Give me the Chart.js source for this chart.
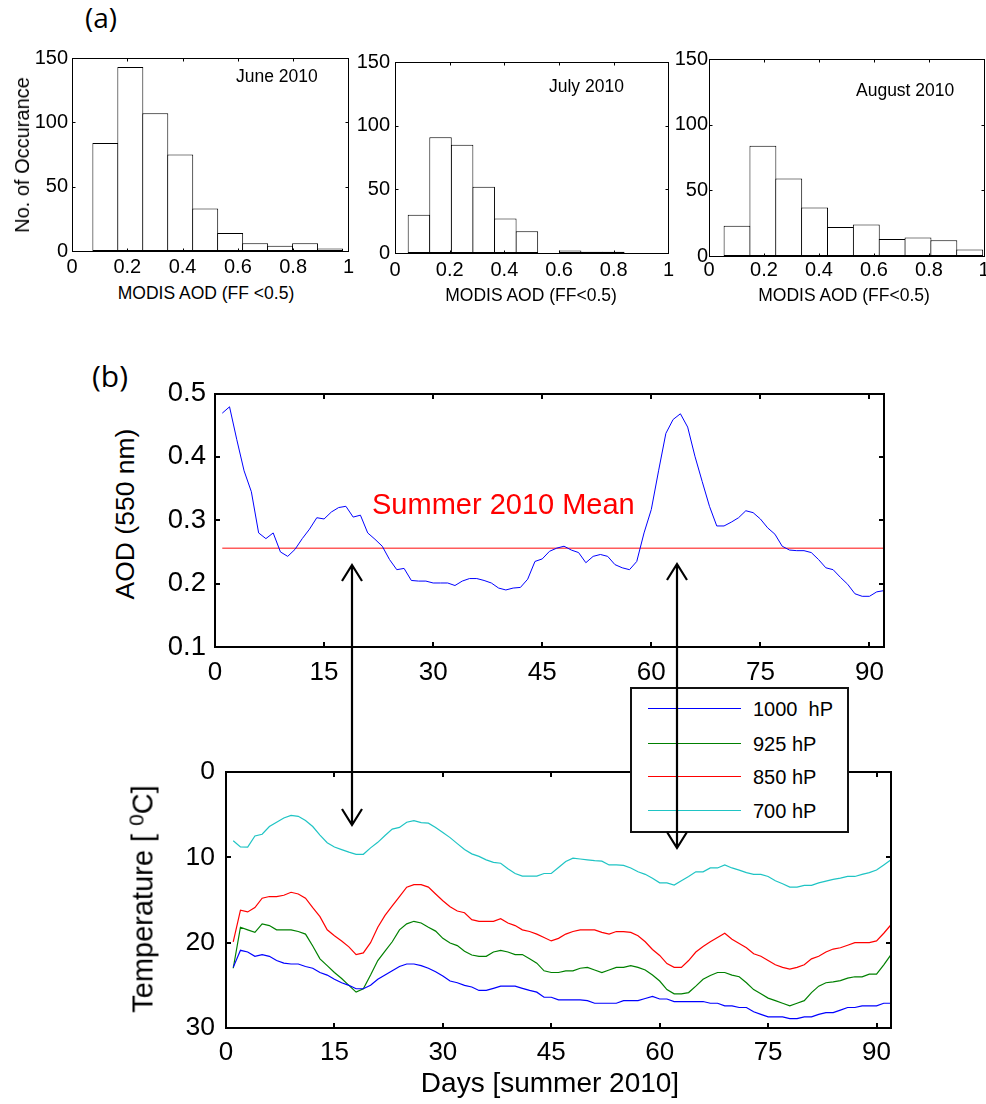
<!DOCTYPE html>
<html><head><meta charset="utf-8">
<script src="https://cdn.jsdelivr.net/npm/chart.js@4"></script>
<style>
html,body{margin:0;padding:0;background:#fff}
body{width:986px;height:1104px;position:relative;overflow:hidden;font-family:"Liberation Sans",Arial,sans-serif;color:#000}
.lbl{position:absolute;white-space:pre;z-index:5;line-height:1}
.rot{transform:translate(-50%,-50%) rotate(-90deg)}
#legend{position:absolute;z-index:6;background:#fff;border:2px solid #111;box-sizing:border-box}
#overlay{position:absolute;left:0;top:0;z-index:7;pointer-events:none}
</style></head>
<body>
<script>
// ---------------- data ----------------
const juneBins  = [0.1207,0.2110,0.3013,0.3916,0.4819,0.5722,0.6625,0.7528,0.8431,0.9334];
const juneCounts= [84,143,107,75,33,14,6,4,6,2];
const julyBins  = [0.0875,0.1665,0.2455,0.3245,0.4035,0.4825,0.5615,0.6405,0.7195,0.7985];
const julyCounts= [30,91,85,52,27,17,0,2,1,1];
const augBins   = [0.102,0.196,0.290,0.384,0.478,0.572,0.666,0.760,0.854,0.948];
const augCounts = [23,84,59,37,22,24,13,14,12,5];
const histXTicks = [0,0.2,0.4,0.6,0.8,1];
const histYTicks = [0,50,100,150];
const monthLabels = ['June 2010','July 2010','August 2010'];

const days = [1,2,3,4,5,6,7,8,9,10,11,12,13,14,15,16,17,18,19,20,21,22,23,24,25,26,27,28,29,30,
 31,32,33,34,35,36,37,38,39,40,41,42,43,44,45,46,47,48,49,50,51,52,53,54,55,56,57,58,59,60,
 61,62,63,64,65,66,67,68,69,70,71,72,73,74,75,76,77,78,79,80,81,82,83,84,85,86,87,88,89,90,91,92];
const aod = [0.469,0.479,0.427,0.378,0.345,0.280,0.271,0.280,0.250,0.243,
 0.254,0.271,0.286,0.304,0.302,0.313,0.320,0.322,0.305,0.308,
 0.280,0.270,0.259,0.238,0.222,0.224,0.205,0.204,0.204,0.201,
 0.201,0.201,0.197,0.204,0.208,0.208,0.205,0.201,0.193,0.190,
 0.193,0.194,0.207,0.235,0.239,0.251,0.256,0.259,0.253,0.249,
 0.233,0.243,0.246,0.243,0.230,0.225,0.222,0.235,0.280,0.317,
 0.378,0.437,0.459,0.468,0.447,0.401,0.361,0.322,0.291,0.291,
 0.297,0.304,0.315,0.312,0.302,0.288,0.278,0.259,0.253,0.252,
 0.252,0.249,0.238,0.225,0.222,0.210,0.199,0.184,0.180,0.180,
 0.187,0.189];
const aodMean = 0.256;
const meanDays = [1,92];
const aodYTicks = [0.1,0.2,0.3,0.4,0.5];
const dayTicks = [0,15,30,45,60,75,90];

const t1000 = [22.9,20.9,21.1,21.6,21.4,21.6,22.1,22.4,22.5,22.5, 22.8,23.0,23.5,23.8,24.3,24.7,25.0,25.4,25.4,25.0,
 24.3,23.8,23.3,22.8,22.5,22.5,22.7,23.0,23.4,23.9, 24.5,24.7,25.0,25.2,25.6,25.6,25.35,25.1,25.1,25.1,
 25.35,25.6,25.8,26.4,26.4,26.7,26.7,26.7,26.7,26.8, 27.1,27.1,27.1,27.1,26.8,26.8,26.8,26.55,26.3,26.6,
 26.6,26.9,26.9,26.9,26.9,26.9,27.1,27.1,27.4,27.4, 27.6,27.6,28.1,28.4,28.7,28.7,28.7,28.9,28.9,28.7,
 28.7,28.4,28.2,28.2,27.9,27.6,27.6,27.4,27.4,27.4, 27.1,27.1];
const t925 = [23.0,18.2,18.5,18.8,17.8,18.0,18.5,18.5,18.5,18.7, 19.0,20.4,21.9,22.7,23.5,24.2,25.0,25.8,25.4,23.8,
 22.1,21.0,19.9,18.5,17.8,17.5,17.7,18.2,18.65,19.5, 20.05,20.35,21.0,21.45,21.6,21.6,21.1,20.9,21.1,21.4,
 21.4,21.9,22.4,23.3,23.5,23.5,23.3,23.3,23.0,22.9, 23.2,23.5,23.2,22.9,22.9,22.7,22.9,23.2,23.8,24.5,
 25.5,26.0,26.0,25.85,25.1,24.3,23.85,23.5,23.5,23.8, 24.0,24.7,25.5,26.0,26.5,26.8,27.1,27.4,27.1,26.8,
 25.85,25.1,24.7,24.6,24.45,24.15,24.0,24.0,23.7,23.7, 22.6,21.4];
const t850 = [19.9,16.2,16.4,15.9,14.8,14.6,14.6,14.45,14.1,14.3, 14.8,15.9,16.95,18.5,19.2,19.8,20.5,21.4,21.2,20.0,
 18.2,16.8,15.7,14.6,13.5,13.2,13.2,13.5,14.3,15.1, 15.8,16.3,16.5,17.3,17.5,17.5,17.5,17.2,17.7,18.0,
 18.5,18.7,19.0,19.4,19.8,19.5,19.0,18.7,18.5,18.5, 18.5,18.8,19.0,18.7,18.7,18.8,19.2,19.9,20.8,21.5,
 22.45,22.9,22.9,22.1,21.1,20.45,19.9,19.4,18.9,19.6, 20.1,20.6,21.3,21.6,22.1,22.6,22.9,23.1,22.9,22.6,
 21.9,21.6,21.1,20.75,20.6,20.3,20.0,20.0,20.0,19.8, 18.9,17.9];
const t700 = [8.06,8.78,8.8,7.5,7.3,6.4,5.9,5.4,5.1,5.2, 5.7,6.4,7.4,8.3,8.8,9.1,9.4,9.65,9.65,8.9,
 8.25,7.45,6.7,6.5,5.9,5.7,5.95,6.0,6.5,7.1, 7.7,8.4,9.1,9.6,9.9,10.3,10.6,10.7,11.35,11.9,
 12.2,12.2,12.2,11.9,11.9,11.2,10.5,10.1,10.2,10.3, 10.4,10.45,10.9,10.9,10.95,11.25,11.7,12.0,12.45,13.0,
 13.0,13.25,12.75,12.25,11.7,11.7,11.25,11.25,10.9,11.25, 11.5,11.8,12.0,12.0,12.25,12.75,13.1,13.5,13.5,13.3,
 13.3,13.0,12.8,12.6,12.45,12.25,12.25,12.0,11.8,11.5, 10.9,10.3];
const tempTicks = [0,10,20,30];
const levelLabels = ['1000  hP','925 hP','850 hP','700 hP'];
const levelColors = ['#0000ff','#008000','#ff0000','#1fc4c4'];

// ---------------- helpers ----------------
Chart.defaults.font.family = '"Liberation Sans", Arial, sans-serif';
Chart.defaults.color = '#000';

const matlabBox = {
  id: 'matlabBox',
  afterDatasetsDraw(chart, args, o) {
    const {ctx, chartArea: a, scales} = chart;
    const lw = o.lw || 1, tl = o.tickLen || 4;
    const off = (lw % 2) ? 0.5 : 0;
    const L = Math.round(a.left) + off, R = Math.round(a.right) + off;
    const T = Math.round(a.top) + off, B = Math.round(a.bottom) + off;
    ctx.save();
    ctx.strokeStyle = '#000';
    ctx.lineWidth = lw;
    ctx.beginPath();
    scales.x.ticks.forEach(t => {
      const x = Math.round(scales.x.getPixelForValue(t.value)) + off;
      ctx.moveTo(x, B); ctx.lineTo(x, B - tl);
      ctx.moveTo(x, T); ctx.lineTo(x, T + tl);
    });
    scales.y.ticks.forEach(t => {
      const y = Math.round(scales.y.getPixelForValue(t.value)) + off;
      ctx.moveTo(L, y); ctx.lineTo(L + tl, y);
      ctx.moveTo(R, y); ctx.lineTo(R - tl, y);
    });
    ctx.stroke();
    ctx.strokeRect(L, T, R - L, B - T);
    ctx.restore();
  }
};

function place(g, cfg) {
  const c = document.createElement('canvas');
  const w = g.W + g.ml + g.mr, h = g.H + g.mt + g.mb;
  c.width = w; c.height = h;
  c.style.cssText = `position:absolute;left:${g.L - g.ml}px;top:${g.T - g.mt}px;width:${w}px;height:${h}px;z-index:2`;
  document.body.appendChild(c);
  const o = cfg.options;
  o.responsive = false; o.animation = false; o.devicePixelRatio = 1;
  o.layout = {padding: {left: 0, top: g.mt, right: g.mr, bottom: 0}};
  o.scales.x.afterFit = s => { s.height = g.mb; };
  o.scales.y.afterFit = s => { s.width = g.ml; };
  o.plugins = Object.assign({legend: {display: false}, tooltip: {enabled: false}}, o.plugins || {});
  cfg.plugins = [matlabBox];
  return new Chart(c, cfg);
}

const noGrid = {display: false, drawTicks: false, tickLength: 0};
function fixedTicks(arr) { return s => { s.ticks = arr.map(v => ({value: v})); }; }
const fmtHist = v => (v === 0 || v === 1) ? String(v) : v.toFixed(1);

function histChart(g, bins, counts, px, py) {
  return place(g, {
    type: 'bar',
    data: {datasets: [{
      data: bins.map((b, i) => ({x: b, y: counts[i]})),
      backgroundColor: '#fff', borderColor: '#000', borderWidth: 1,
      borderSkipped: false, barPercentage: 1.04, categoryPercentage: 1
    }]},
    options: {
      scales: {
        x: {type: 'linear', min: 0, max: 1, offset: false,
            grid: noGrid, border: {display: false},
            ticks: {padding: px, font: {size: 20}, autoSkip: false, maxRotation: 0, callback: fmtHist},
            afterBuildTicks: fixedTicks(histXTicks)},
        y: {type: 'linear', min: 0, max: 150,
            grid: noGrid, border: {display: false},
            ticks: {padding: py, font: {size: 20}, autoSkip: false},
            afterBuildTicks: fixedTicks(histYTicks)}
      },
      plugins: {matlabBox: {lw: 1, tickLen: 3}}
    }
  });
}

// ---------------- panel (a) ----------------
histChart({L: 72, T: 54, W: 278, H: 197, ml: 45, mt: 12, mr: 8, mb: 30}, juneBins, juneCounts, 4, 4);
histChart({L: 395, T: 57, W: 276, H: 196, ml: 45, mt: 12, mr: 8, mb: 30}, julyBins, julyCounts, 5, 5);
histChart({L: 709, T: 58, W: 275, H: 198, ml: 45, mt: 12, mr: 8, mb: 30}, augBins, augCounts, 2, 1);

// ---------------- panel (b) AOD ----------------
place({L: 215, T: 386, W: 669, H: 261, ml: 70, mt: 18, mr: 12, mb: 45}, {
  type: 'line',
  data: {datasets: [
    {data: days.map((d, i) => ({x: d, y: aod[i]})), borderColor: '#0000ff', borderWidth: 1,
     pointRadius: 0, tension: 0, fill: false},
    {data: meanDays.map(d => ({x: d, y: aodMean})), borderColor: '#ff5c5c', borderWidth: 1.5,
     pointRadius: 0, tension: 0, fill: false}
  ]},
  options: {
    scales: {
      x: {type: 'linear', min: 0, max: 92, grid: noGrid, border: {display: false},
          ticks: {padding: 10, font: {size: 26}, autoSkip: false, maxRotation: 0},
          afterBuildTicks: fixedTicks(dayTicks)},
      y: {type: 'linear', min: 0.1, max: 0.5, grid: noGrid, border: {display: false},
          ticks: {padding: 9, font: {size: 27.5}, autoSkip: false, callback: v => v.toFixed(1)},
          afterBuildTicks: fixedTicks(aodYTicks)}
    },
    plugins: {matlabBox: {lw: 2, tickLen: 5}}
  }
});

// ---------------- panel (b) temperature ----------------
const tempSeries = [t1000, t925, t850, t700];
const tempChart = place({L: 226, T: 763, W: 665, H: 265, ml: 70, mt: 18, mr: 12, mb: 45}, {
  type: 'line',
  data: {datasets: tempSeries.map((s, k) => ({
    label: levelLabels[k],
    data: days.map((d, i) => ({x: d, y: s[i]})),
    borderColor: levelColors[k], borderWidth: 1.2, pointRadius: 0, tension: 0, fill: false
  }))},
  options: {
    scales: {
      x: {type: 'linear', min: 0, max: 92, grid: noGrid, border: {display: false},
          ticks: {padding: 9, font: {size: 26}, autoSkip: false, maxRotation: 0},
          afterBuildTicks: fixedTicks(dayTicks)},
      y: {type: 'linear', min: 0, max: 30, reverse: true, grid: noGrid, border: {display: false},
          ticks: {padding: 11, font: {size: 26.5}, autoSkip: false},
          afterBuildTicks: fixedTicks(tempTicks)}
    },
    plugins: {matlabBox: {lw: 2, tickLen: 5}}
  }
});

// ---------------- text ----------------
function label(text, opt) {
  const d = document.createElement('div');
  d.className = 'lbl' + (opt.rot ? ' rot' : '');
  d.innerHTML = text;
  const fs = opt.fs;
  let css = `font-size:${fs}px;` + (opt.font ? `font-family:${opt.font};` : '') + (opt.color ? `color:${opt.color};` : '');
  if (opt.rot) {
    css += `left:${opt.cx}px;top:${opt.cy}px;`;
  } else {
    const top = opt.base - 0.8465 * fs;
    if (opt.cx !== undefined) css += `left:${opt.cx}px;top:${top}px;transform:translateX(-50%);`;
    else css += `left:${opt.x}px;top:${top}px;`;
  }
  d.style.cssText = css;
  document.body.appendChild(d);
  return d;
}
label('(a)', {x: 85, base: 27, fs: 28, font: '"Open Sans", sans-serif'});
label('(b)', {x: 92, base: 386, fs: 30, font: '"Open Sans", sans-serif'});
label(monthLabels[0], {x: 236, base: 83, fs: 17.5});
label(monthLabels[1], {x: 549, base: 93, fs: 17.5});
label(monthLabels[2], {x: 856, base: 97, fs: 17.5});
label('MODIS AOD (FF &lt;0.5)', {cx: 206, base: 300, fs: 17.5});
label('MODIS AOD (FF&lt;0.5)', {cx: 531, base: 302, fs: 17.5});
label('MODIS AOD (FF&lt;0.5)', {cx: 844, base: 302, fs: 17.5});
label('No. of Occurance', {rot: true, cx: 22, cy: 155, fs: 20});
label('Summer 2010 Mean', {x: 372, base: 515, fs: 29, color: '#ff0000'});
label('AOD (550 nm)', {rot: true, cx: 125, cy: 514, fs: 26.5});
label('Temperature [ <span style="position:relative;top:-0.45em;font-size:0.72em">0</span>C]', {rot: true, cx: 143, cy: 899, fs: 29});
label('Days [summer 2010]', {cx: 550, base: 1093, fs: 28});

// ---------------- legend (from the temperature chart's datasets) ----------------
const lg = document.createElement('div');
lg.id = 'legend';
lg.style.cssText = 'left:630px;top:687px;width:219px;height:146px;';
const rowY = [20, 55, 88, 122];
tempChart.data.datasets.forEach((ds, k) => {
  const ln = document.createElement('div');
  ln.style.cssText = `position:absolute;left:16px;top:${rowY[k] - 1}px;width:93px;height:1px;background:${ds.borderColor}`;
  lg.appendChild(ln);
  const tx = document.createElement('div');
  tx.style.cssText = `position:absolute;left:121px;top:${rowY[k] - 11}px;font-size:20px;line-height:22px;white-space:pre`;
  tx.textContent = ds.label;
  lg.appendChild(tx);
});
document.body.appendChild(lg);

// ---------------- arrows (annotation overlay) ----------------
const ov = document.createElement('canvas');
ov.id = 'overlay'; ov.width = 986; ov.height = 1104;
document.body.appendChild(ov);
const octx = ov.getContext('2d');
octx.strokeStyle = '#000'; octx.lineWidth = 2.2; octx.lineJoin = 'miter';
function arrow(x, y1, y2) {
  octx.beginPath();
  octx.moveTo(x, y1 + 1); octx.lineTo(x, y2 - 1);
  octx.moveTo(x - 10, y1 + 16); octx.lineTo(x, y1); octx.lineTo(x + 10, y1 + 16);
  octx.moveTo(x - 10, y2 - 16); octx.lineTo(x, y2); octx.lineTo(x + 10, y2 - 16);
  octx.stroke();
}
arrow(352, 565, 825);
arrow(677, 564, 848);
</script>
</body></html>
